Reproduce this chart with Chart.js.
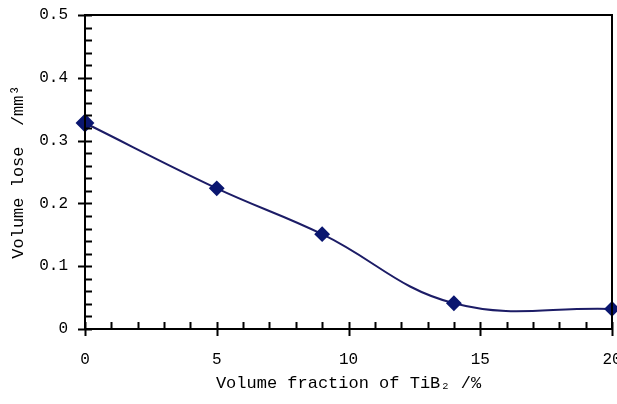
<!DOCTYPE html>
<html>
<head>
<meta charset="utf-8">
<script src="https://cdn.jsdelivr.net/npm/chart.js@4/dist/chart.umd.min.js"></script>
<style>
  html, body { margin: 0; padding: 0; background: #fff; }
  #wrap { width: 617px; height: 404px; }
</style>
</head>
<body>
<div id="wrap"><canvas id="wear"></canvas></div>
<script>
// data
var fraction = [0, 5, 9, 14, 20];
var volumeLose = [0.328, 0.224, 0.151, 0.041, 0.032];
var xTicks = [0, 5, 10, 15, 20];
var yTicks = [0, 0.1, 0.2, 0.3, 0.4, 0.5];

var monoFont = "'Liberation Mono', 'DejaVu Sans Mono', monospace";

function noPadding() {
	return { left: 0, right: 0, top: 0, bottom: 0 };
}

/*-----axes, frame and inward ticks-----*/
var framePlugin = {
	id: 'frame',
	afterDatasetsDraw: function(chart) {
		var c = chart.ctx, a = chart.chartArea;
		var xs = chart.scales.x, ys = chart.scales.y;
		c.save();
		c.strokeStyle = '#000';
		c.lineWidth = 2;
		c.strokeRect(a.left, a.top, a.right - a.left, a.bottom - a.top);
		c.beginPath();
		for (var v = 0; v <= 20; v++) {
			var px = Math.round(xs.getPixelForValue(v)) + 0.5;
			var major = v % 5 === 0;
			c.moveTo(px, a.bottom - 7);
			c.lineTo(px, a.bottom + (major ? 7 : 0));
		}
		for (var i = 0; i <= 25; i++) {
			var py = Math.round(ys.getPixelForValue(i * 0.02)) + 0.5;
			var maj = i % 5 === 0;
			c.moveTo(a.left - (maj ? 7 : 0), py);
			c.lineTo(a.left + 7, py);
		}
		c.stroke();
		c.restore();
	}
};

new Chart(document.getElementById('wear'), {
	type: 'line',
	data: {
		datasets: [{
			data: fraction.map(function(x, i) { return { x: x, y: volumeLose[i] }; }),
			borderColor: '#1c1c66',
			borderWidth: 2,
			tension: 0.4,
			pointStyle: 'rectRot',
			pointRadius: [8, 6.5, 6.5, 6.5, 6.5],
			pointBackgroundColor: '#0a1670',
			pointBorderColor: '#0a1670',
			clip: false
		}]
	},
	options: {
		responsive: true,
		maintainAspectRatio: false,
		animation: false,
		layout: { autoPadding: false, padding: { top: 15, right: 5, left: 0, bottom: 0 } },
		plugins: {
			legend: { display: false },
			tooltip: { enabled: false }
		},
		scales: {
			x: {
				type: 'linear',
				min: 0,
				max: 20,
				afterBuildTicks: function(s) { s.ticks = xTicks.map(function(v) { return { value: v }; }); },
				afterFit: function(s) { s.height = 75; s.getPadding = noPadding; },
				grid: { display: false, drawTicks: false },
				border: { display: false },
				ticks: {
					padding: 21,
					color: '#000',
					font: { family: monoFont, size: 16 },
					maxRotation: 0
				},
				title: {
					display: true,
					text: 'Volume fraction of TiB\u2082 /%',
					color: '#000',
					font: { family: monoFont, size: 17 },
					padding: { top: 0, bottom: 10 }
				}
			},
			y: {
				min: 0,
				max: 0.5,
				afterBuildTicks: function(s) { s.ticks = yTicks.map(function(v) { return { value: v }; }); },
				afterFit: function(s) { s.width = 85; s.getPadding = noPadding; },
				grid: { display: false, drawTicks: false },
				border: { display: false },
				ticks: {
					padding: 17,
					color: '#000',
					font: { family: monoFont, size: 16 },
					callback: function(v) { return v === 0 ? '0' : v.toFixed(1); }
				},
				title: {
					display: true,
					text: 'Volume lose  /mm\u00b3',
					color: '#000',
					font: { family: monoFont, size: 17 },
					padding: { top: 8, bottom: 0 }
				}
			}
		}
	},
	plugins: [framePlugin]
});
</script>
</body>
</html>
